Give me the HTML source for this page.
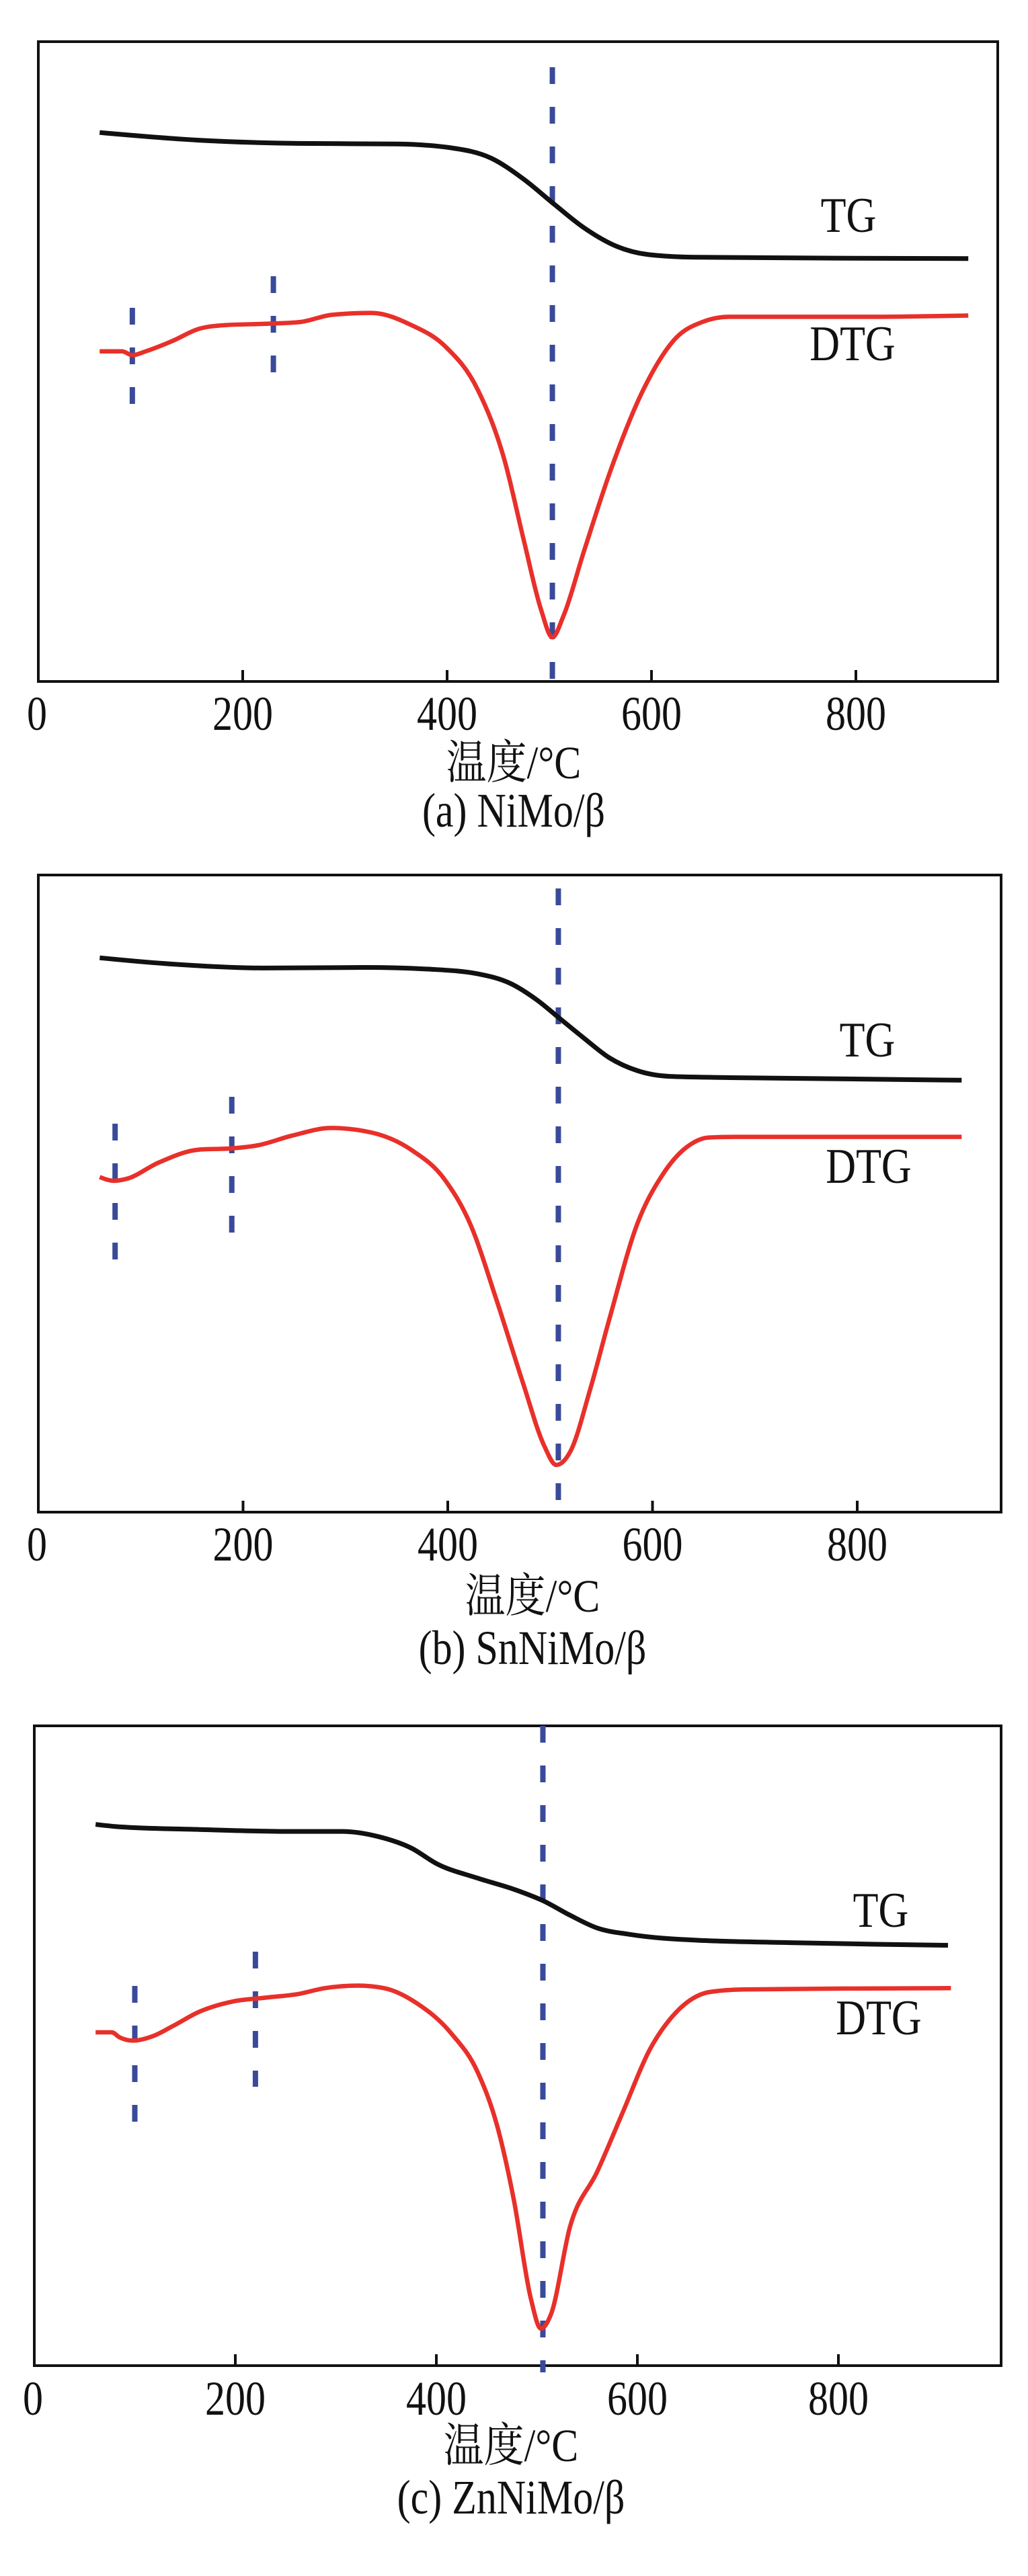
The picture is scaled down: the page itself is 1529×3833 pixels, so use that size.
<!DOCTYPE html>
<html><head><meta charset="utf-8"><style>
html,body{margin:0;padding:0;background:#fff;}
svg{display:block;}
text{font-family:"Liberation Serif","Noto Serif CJK SC",serif;fill:#111;}
</style></head><body>
<svg id="fig" width="1529" height="3833" viewBox="0 0 1529 3833" xmlns="http://www.w3.org/2000/svg"></svg>
<script>
// ---- data (temperature in °C, signal in relative units 0..100 of plot height) ----
const xTicks = [0, 200, 400, 600, 800];
const captions = ["(a) NiMo/β", "(b) SnNiMo/β", "(c) ZnNiMo/β"];

const tgA_T = [60,157,254,352,404,443,475,504,534,566,598,644,910];
const tgA_V = [85.8,84.6,84.1,84.0,83.4,81.8,78.5,74.7,70.9,68.0,66.7,66.3,66.1];
const dtgA_T = [60,82,92,105,131,157,183,222,257,287,326,365,398,430,456,475,492,503,514,534,560,592,624,650,676,806,910];
const dtgA_V = [51.6,51.6,51.0,51.6,53.2,55.1,55.7,55.9,56.2,57.3,57.6,55.7,52.4,45.6,34.7,22.1,11.2,6.9,10.3,20.4,33.0,45.6,53.7,56.2,57.0,57.0,57.2];
const markA_T = [92, 230, 503];

const tgB_T = [60,124,222,319,384,429,461,487,510,533,558,585,617,675,902];
const tgB_V = [87.0,86.1,85.4,85.5,85.2,84.5,83.0,80.4,77.4,74.4,71.3,69.3,68.4,68.2,67.8];
const dtgB_T = [60,74,86,118,157,189,215,248,286,325,364,397,422,448,474,494,506,520,539,558,585,610,636,655,680,902];
const dtgB_V = [52.6,52.0,52.3,54.9,56.9,57.1,57.6,59.1,60.3,59.6,56.9,52.2,45.2,33.1,20.0,10.5,7.4,9.6,19.2,30.4,45.2,53.0,57.6,58.8,58.9,58.9];
const markB_T = [75, 189, 508];

const tgC_T = [61,86,164,256,306,342,375,401,441,480,507,533,560,593,658,757,909];
const tgC_V = [84.6,84.2,83.8,83.5,83.5,82.7,80.9,78.4,76.2,74.3,72.6,70.4,68.4,67.4,66.5,66.1,65.7];
const dtgC_T = [61,77,85,98,118,137,164,197,229,263,289,322,348,381,415,441,461,477,494,504,514,533,560,586,612,639,672,705,912];
const dtgC_V = [52.1,52.1,51.3,50.8,51.5,53.0,55.3,56.9,57.5,58.1,59.0,59.4,59.0,56.6,51.9,45.9,37.2,26.0,10.5,5.8,8.0,21.7,30.3,39.8,49.3,55.3,58.4,58.8,59.0];
const markC_T = [100, 220, 506];

// ---- layout ----
const panels = [
  {id:"a", L:57, R:1484, T:62, B:1014, k:1.52, tickY:1086, labY:1158, capY:1230, cx:764,
   tg:[tgA_T,tgA_V], dtg:[dtgA_T,dtgA_V], marks:markA_T,
   marksY:[[458,601],[411,555],[100,1012]], tgLab:[1262,345], dtgLab:[1268,536]},
  {id:"b", L:57, R:1489, T:1302, B:2250, k:1.5225, tickY:2322, labY:2398, capY:2476, cx:792,
   tg:[tgB_T,tgB_V], dtg:[dtgB_T,dtgB_V], marks:markB_T,
   marksY:[[1672,1876],[1632,1835],[1322,2232]], tgLab:[1290,1572], dtgLab:[1292,1760]},
  {id:"c", L:51, R:1489, T:2568, B:3520, k:1.495, tickY:3593, labY:3662, capY:3740, cx:760,
   tg:[tgC_T,tgC_V], dtg:[dtgC_T,dtgC_V], marks:markC_T,
   marksY:[[2955,3157],[2904,3105],[2568,3530]], tgLab:[1310,2867], dtgLab:[1307,3027]}
];

const NS = "http://www.w3.org/2000/svg";
const svg = document.getElementById("fig");
function mk(tag, attrs, parent){
  const e = document.createElementNS(NS, tag);
  for (const k in attrs) e.setAttribute(k, attrs[k]);
  (parent||svg).appendChild(e);
  return e;
}
function sgn(v){ return v < 0 ? -1 : 1; }
// monotone cubic interpolation (like d3.curveMonotoneX)
function pathFrom(px, py){
  const n = px.length, t = new Array(n);
  for (let i = 1; i < n - 1; i++){
    const h0 = px[i]-px[i-1], h1 = px[i+1]-px[i];
    const s0 = (py[i]-py[i-1])/h0, s1 = (py[i+1]-py[i])/h1;
    const p = (s0*h1 + s1*h0)/(h0+h1);
    t[i] = (sgn(s0)+sgn(s1)) * Math.min(Math.abs(s0), Math.abs(s1), 0.5*Math.abs(p)) || 0;
  }
  const h0 = px[1]-px[0];
  t[0] = (3*(py[1]-py[0])/h0 - t[1]) / 2;
  const hn = px[n-1]-px[n-2];
  t[n-1] = (3*(py[n-1]-py[n-2])/hn - t[n-2]) / 2;
  let d = "M" + px[0].toFixed(1) + "," + py[0].toFixed(1);
  for (let i = 0; i < n - 1; i++){
    const dx = (px[i+1]-px[i])/3;
    d += " C" + (px[i]+dx).toFixed(1) + "," + (py[i]+dx*t[i]).toFixed(1) + " " +
         (px[i+1]-dx).toFixed(1) + "," + (py[i+1]-dx*t[i+1]).toFixed(1) + " " +
         px[i+1].toFixed(1) + "," + py[i+1].toFixed(1);
  }
  return d;
}

panels.forEach((p, pi) => {
  const g = mk("g", {});
  
  
  const xs = t => p.L + t * p.k;
  const ys = v => p.B - v / 100 * (p.B - p.T);

  const frame = mk("rect", {x:p.L, y:p.T, width:p.R-p.L, height:p.B-p.T, fill:"none", stroke:"#111", "stroke-width":4}, g);
  
  

  xTicks.forEach(t => {
    const x = xs(t);
    if (t > 0) {
      const tk = mk("line", {x1:x, y1:p.B, x2:x, y2:p.B-17, stroke:"#111", "stroke-width":4}, g);
      
      
    }
    const tl = mk("text", {"text-anchor":"middle", "font-size":60, transform:"translate("+(t===0?x-2:x)+","+p.tickY+") scale(1,1.2)"}, g);
    tl.textContent = String(t);
    
    
  });

  const xl = mk("text", {"text-anchor":"middle", "font-size":60, transform:"translate("+p.cx+","+p.labY+") scale(1,1.15)"}, g);
  xl.textContent = "温度/°C";
  
  

  const cap = mk("text", {"text-anchor":"middle", "font-size":60, transform:"translate("+p.cx+","+p.capY+") scale(1,1.2)"}, g);
  cap.textContent = captions[pi];
  
  

  p.marks.forEach((t, i) => {
    const x = xs(t);
    const ml = mk("line", {x1:x, y1:p.marksY[i][0], x2:x, y2:p.marksY[i][1], stroke:"#3a4a9a", "stroke-width":8, "stroke-dasharray":"25 34"}, g);
    
    
  });

  const tg = mk("path", {d:pathFrom(p.tg[0].map(xs), p.tg[1].map(ys)), fill:"none", stroke:"#111", "stroke-width":7, "stroke-linejoin":"round"}, g);
  
  

  const dtg = mk("path", {d:pathFrom(p.dtg[0].map(xs), p.dtg[1].map(ys)), fill:"none", stroke:"#e8302a", "stroke-width":6.5, "stroke-linejoin":"round"}, g);
  
  

  const t1 = mk("text", {"text-anchor":"middle", "font-size":62, transform:"translate("+p.tgLab[0]+","+p.tgLab[1]+") scale(1,1.2)"}, g);
  t1.textContent = "TG";
  
  
  const t2 = mk("text", {"text-anchor":"middle", "font-size":62, transform:"translate("+p.dtgLab[0]+","+p.dtgLab[1]+") scale(1,1.2)"}, g);
  t2.textContent = "DTG";
  
  
});
</script>
</body></html>
